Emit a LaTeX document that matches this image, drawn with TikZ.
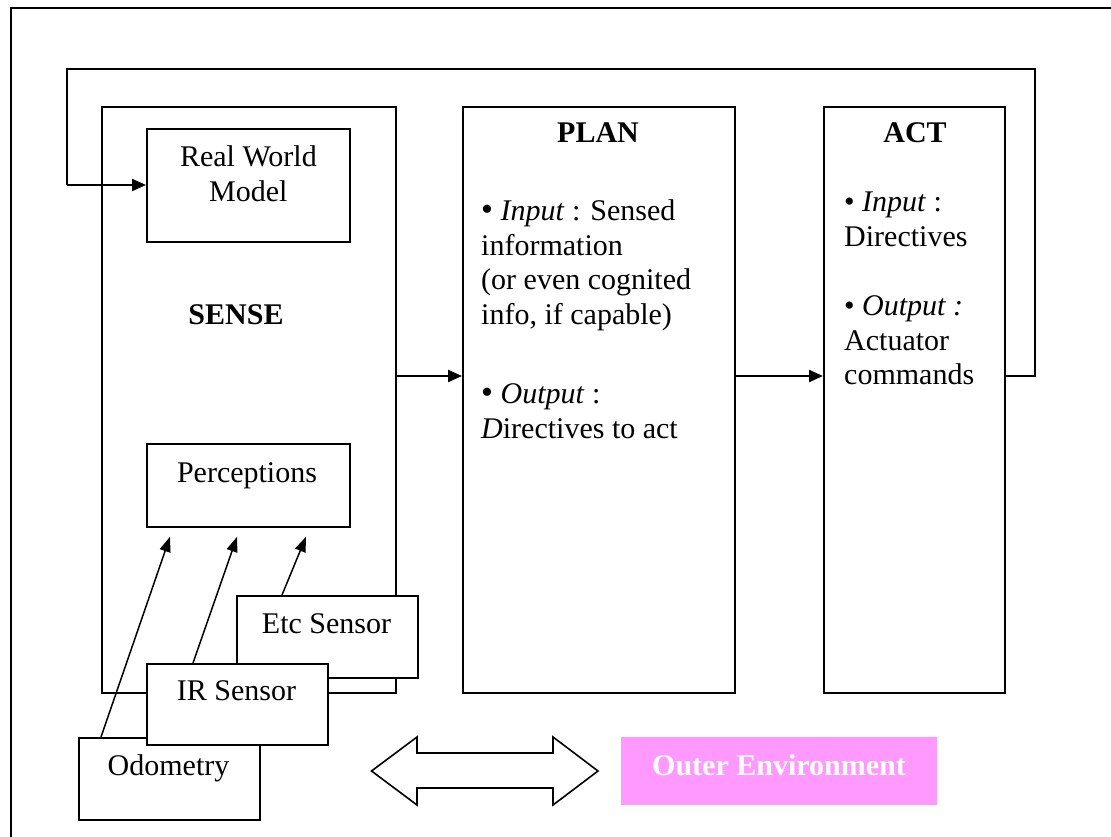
\documentclass[tikz,border=0pt]{standalone}
\usepackage{fontspec}
\setmainfont{Liberation Serif}
\usetikzlibrary{arrows.meta}

\newcommand{\bodyfont}{\fontsize{30}{34.5}\selectfont}
\tikzset{
  box/.style={draw, line width=1.8pt, inner sep=0pt, anchor=north west, fill=white},
  lbl/.style={inner sep=0pt, font=\bodyfont},
  title/.style={inner sep=0pt, font=\bodyfont\bfseries, anchor=base},
  flow/.style={line width=2.2pt, -{Triangle[length=14pt,width=12pt]}},
  feed/.style={line width=2.2pt},
  sensearrow/.style={line width=1.5pt, -{Triangle[length=15pt,width=11pt]}},
}

\begin{document}
\begin{tikzpicture}[x=1pt,y=-1pt]
\useasboundingbox (0,0) rectangle (1111,837);

% outer frame (only top and left edges lie inside the page)
\draw[line width=1.8pt] (11,837) -- (11,8) -- (1111,8);

% SENSE block with its inner parts
\node[box, minimum width=294pt, minimum height=586pt] (sense) at (101,106) {};
\node[box, minimum width=203pt, minimum height=113pt] (rwm) at (146,128) {};
\node[box, minimum width=203pt, minimum height=83pt] (perc) at (146,443) {};
\node[lbl, anchor=north, align=center] (rwmtext) at ([yshift=-17.5pt]rwm.north) {Real World\\Model};
\node[lbl, anchor=base] (perctext) at (247,482) {Perceptions};
\node[title] (sensetext) at (236,324) {SENSE};

% PLAN block
\node[box, minimum width=272pt, minimum height=586pt] (plan) at (462,106) {};
\node[title] (plantitle) at (598,143) {PLAN};
\node[lbl, anchor=north west, align=left] (plantext) at (481,199.5)
  {{\fontsize{34}{34.5}\selectfont•} \textit{Input} : Sensed\\
   information\\
   (or even cognited\\
   info, if capable)\\[45pt]
   {\fontsize{34}{34.5}\selectfont•} \textit{Output} :\\
   \textit{D}irectives to act};

% ACT block
\node[box, minimum width=181pt, minimum height=586pt] (act) at (823,106) {};
\node[title] (acttitle) at (915,143) {ACT};
\node[lbl, anchor=north west, align=left] (acttext) at (844,192)
  {• \textit{Input} :\\
   Directives\\[35pt]
   • \textit{Output :}\\
   Actuator\\
   commands};

% sensors, stacked
\node[box, minimum width=181pt, minimum height=82pt] (odo) at (78,737) {};
\node[box, minimum width=181pt, minimum height=82pt] (etc) at (236,595) {};
\node[box, minimum width=181pt, minimum height=81pt] (ir) at (146,663) {};
\node[lbl, anchor=base] (etctext) at (326.5,633) {Etc Sensor};
\node[lbl, anchor=base] (irtext) at (236.5,700) {IR Sensor};
\node[lbl, anchor=base] (odotext) at (168.5,775) {Odometry};

% sensor readings feeding the perceptions
\draw[sensearrow] ([xshift=23pt]odo.north west) -- ([xshift=24pt,yshift=-9pt]perc.south west);
\draw[sensearrow] ([xshift=47pt]ir.north west) -- ([xshift=91pt,yshift=-9pt]perc.south west);
\draw[sensearrow] ([xshift=46pt]etc.north west) -- ([xshift=160pt,yshift=-9pt]perc.south west);

% main flow
\coordinate (lvl) at (0,376);
\draw[flow] (sense.east |- lvl) -- (plan.west |- lvl);
\draw[flow] (plan.east |- lvl) -- (act.west |- lvl);

% feedback loop from ACT back to the world model
\coordinate (fbr) at (1035,376);
\coordinate (fbtr) at (1035,69);
\coordinate (fbtl) at (67,69);
\coordinate (fbl) at (67,185);
\draw[feed] (act.east |- lvl) -- (fbr) -- (fbtr) -- (fbtl) -- (fbl);
\draw[flow] (fbl) -- (rwm.west |- fbl);

% interaction with the environment
\draw[line width=1.6pt, fill=white, line join=miter]
  (371.5,771) -- (417,737) -- (417,753) -- (553,753) -- (553,737) -- (598,771)
  -- (553,805) -- (553,788) -- (417,788) -- (417,805) -- cycle;
\definecolor{envpink}{HTML}{FF99FF}
\node[fill=envpink, inner sep=0pt, minimum width=316pt, minimum height=68pt, anchor=north west] (env) at (621,737) {};
\node[title, text=white] (envtext) at (779,775) {Outer Environment};
\end{tikzpicture}
\end{document}
